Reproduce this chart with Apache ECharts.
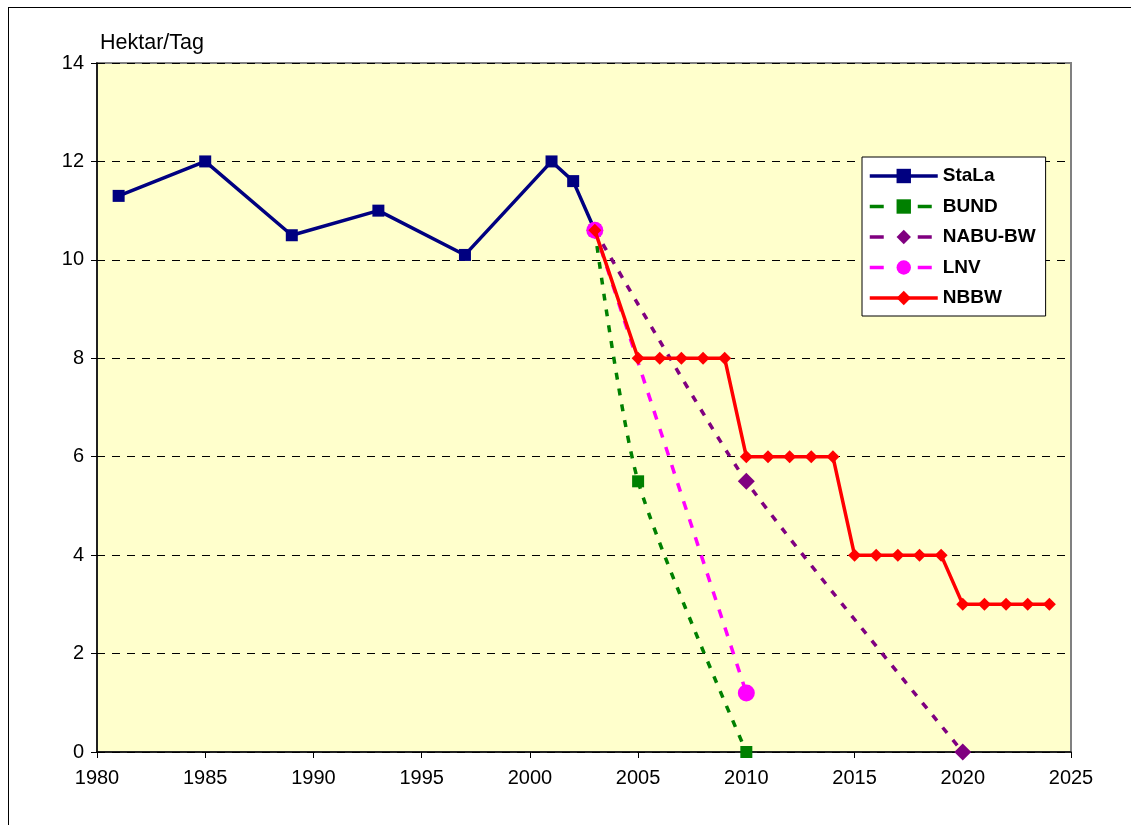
<!DOCTYPE html>
<html>
<head>
<meta charset="utf-8">
<script src="https://cdn.jsdelivr.net/npm/echarts@6/dist/echarts.min.js"></script>
<style>
  html, body { margin: 0; padding: 0; background: #fff; }
  #frame { position: absolute; left: 8px; top: 7px; width: 1140px; height: 840px; border-left: 1px solid #000; border-top: 1px solid #000; }
  #main { position: absolute; left: 0; top: 0; width: 1131px; height: 825px; }
</style>
</head>
<body>
<div id="frame"></div>
<div id="main"></div>
<script>
// values
var stalaYears = [1981, 1985, 1989, 1993, 1997, 2001, 2002, 2003];
var stalaValues = [11.3, 12, 10.5, 11, 10.1, 12, 11.6, 10.6];

var bundYears = [2003, 2005, 2010];
var bundValues = [10.6, 5.5, 0];

var nabuYears = [2003, 2010, 2020];
var nabuValues = [10.6, 5.5, 0];

var lnvYears = [2003, 2010];
var lnvValues = [10.6, 1.2];

var nbbwYears = [2003, 2005, 2006, 2007, 2008, 2009, 2010, 2011, 2012, 2013, 2014,
  2015, 2016, 2017, 2018, 2019, 2020, 2021, 2022, 2023, 2024];
var nbbwValues = [10.6, 8, 8, 8, 8, 8, 6, 6, 6, 6, 6,
  4, 4, 4, 4, 4, 3, 3, 3, 3, 3];

function pairs(xs, ys) {
  return xs.map(function (x, i) { return [x, ys[i]]; });
}

var chart = echarts.init(document.getElementById('main'));

var font = 'Arial, "Liberation Sans", sans-serif';
var legendDash = { type: [14, 34], width: 3.5 };

var option = {
  backgroundColor: 'transparent',
  animation: false,
  grid: {
    left: 97,
    top: 63,
    width: 974,
    height: 689,
    show: true,
    backgroundColor: '#FFFFCC',
    borderColor: '#808080',
    borderWidth: 2
  },
  legend: {
    orient: 'vertical',
    left: 862,
    top: 157,
    padding: [9, 10, 8, 6],
    itemGap: 10.5,
    itemWidth: 68,
    itemHeight: 18,
    backgroundColor: '#fff',
    borderColor: '#000',
    borderWidth: 1,
    lineStyle: { width: 3.5 },
    textStyle: { fontFamily: font, fontSize: 19, fontWeight: 'bold', color: '#000', lineHeight: 20 },
    data: [
      { name: 'StaLa' },
      { name: 'BUND', lineStyle: legendDash },
      { name: 'NABU-BW', lineStyle: legendDash },
      { name: 'LNV', lineStyle: legendDash },
      { name: 'NBBW' }
    ]
  },
  xAxis: {
    type: 'value',
    min: 1980,
    max: 2025,
    interval: 5,
    axisLine: { show: true, onZero: false, lineStyle: { color: '#000', width: 1.5 } },
    axisTick: { show: true, length: 6, lineStyle: { color: '#000' } },
    axisLabel: { fontFamily: font, fontSize: 20, color: '#000', margin: 16, formatter: function (v) { return String(v); } },
    splitLine: { show: false }
  },
  yAxis: {
    type: 'value',
    min: 0,
    max: 14,
    interval: 2,
    name: 'Hektar/Tag',
    nameLocation: 'end',
    nameGap: 9,
    nameTextStyle: { fontFamily: font, fontSize: 21.5, color: '#000', align: 'left', padding: [0, 0, 0, 3] },
    axisLine: { show: true, lineStyle: { color: '#000', width: 1.5 } },
    axisTick: { show: true, length: 6, lineStyle: { color: '#000' } },
    axisLabel: { fontFamily: font, fontSize: 20, color: '#000', margin: 13 },
    splitLine: { show: true, lineStyle: { color: '#000', type: [8, 7], width: 1 } }
  },
  series: [
    {
      name: 'StaLa',
      type: 'line',
      data: pairs(stalaYears, stalaValues),
      symbol: 'rect',
      symbolSize: 12,
      color: '#000080',
      lineStyle: { width: 3.5, color: '#000080' },
      itemStyle: { color: '#000080' },
      z: 2
    },
    {
      name: 'BUND',
      type: 'line',
      data: pairs(bundYears, bundValues),
      smooth: 0.25,
      symbol: 'rect',
      symbolSize: 12,
      color: '#008000',
      lineStyle: { width: 3.5, color: '#008000', type: [7, 9] },
      itemStyle: { color: '#008000' },
      z: 3
    },
    {
      name: 'NABU-BW',
      type: 'line',
      data: pairs(nabuYears, nabuValues),
      smooth: 0.2,
      symbol: 'diamond',
      symbolSize: 17,
      color: '#800080',
      lineStyle: { width: 3.5, color: '#800080', type: [7, 9] },
      itemStyle: { color: '#800080' },
      z: 4
    },
    {
      name: 'LNV',
      type: 'line',
      data: pairs(lnvYears, lnvValues),
      symbol: 'circle',
      symbolSize: 17,
      color: '#FF00FF',
      lineStyle: { width: 3.5, color: '#FF00FF', type: [9, 10] },
      itemStyle: { color: '#FF00FF' },
      z: 5
    },
    {
      name: 'NBBW',
      type: 'line',
      data: pairs(nbbwYears, nbbwValues),
      symbol: 'diamond',
      symbolSize: 13,
      color: '#FF0000',
      lineStyle: { width: 3.5, color: '#FF0000' },
      itemStyle: { color: '#FF0000' },
      z: 6
    }
  ]
};

chart.setOption(option);
</script>
</body>
</html>
